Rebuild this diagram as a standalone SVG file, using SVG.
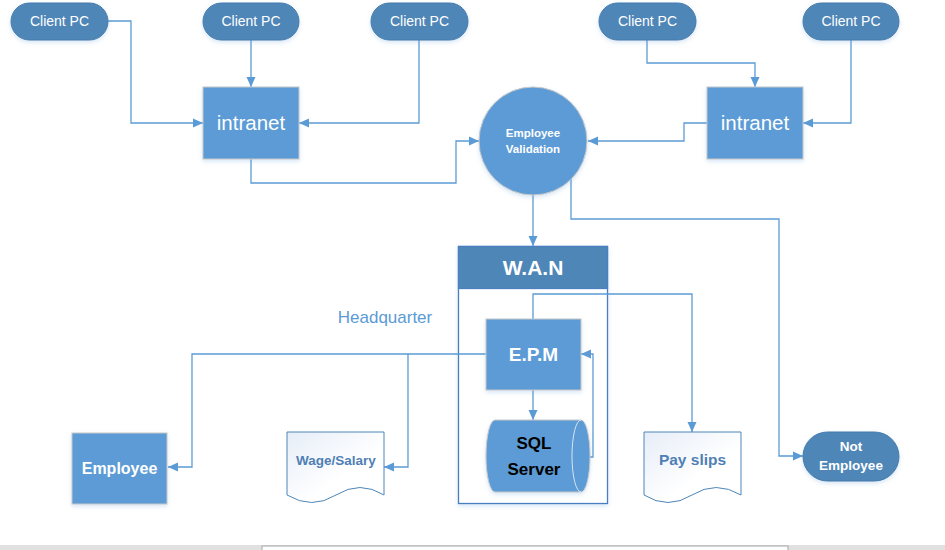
<svg xmlns="http://www.w3.org/2000/svg" width="945" height="550" viewBox="0 0 945 550">
<style>
text{font-family:"Liberation Sans",Arial,sans-serif;text-anchor:middle}
.pill{fill:#4f86b8;stroke:#477bab;stroke-width:1}
.box{fill:#5b9bd5;stroke:#c8c8c8;stroke-width:1}
.w{fill:#ffffff}
.b{font-weight:bold}
.doc{fill:url(#dg);stroke:#4f86b8;stroke-width:1}
.con{fill:none;stroke:#5b9bd5;stroke-width:1.3}
</style>
<defs>
<marker id="ah" markerUnits="userSpaceOnUse" markerWidth="10" markerHeight="10" viewBox="0 0 10 10" refX="10" refY="5" orient="auto">
<path d="M0,0.5 L10,5 L0,9.5 Z" fill="#5b9bd5"/>
</marker>
<linearGradient id="dg" x1="0" y1="0" x2="1" y2="1">
<stop offset="0" stop-color="#e6edf8"/>
<stop offset="0.6" stop-color="#ffffff"/>
</linearGradient>
<filter id="sh" x="-10%" y="-10%" width="130%" height="140%">
<feDropShadow dx="0" dy="2" stdDeviation="2" flood-color="#5b9bd5" flood-opacity="0.25"/>
</filter>
</defs>
<rect width="945" height="550" fill="#ffffff"/>

<g id="wan">
<rect x="458.5" y="246.5" width="149" height="257" fill="#ffffff" stroke="#4a7fc0" stroke-width="1.3" filter="url(#sh)"/>
<rect x="458.5" y="246.5" width="149" height="42" fill="#4f86b8" stroke="#4a7fc0" stroke-width="1.3"/>
<text class="w b" x="533" y="275" font-size="21">W.A.N</text>
</g>

<g id="connectors">
<path class="con" marker-end="url(#ah)" d="M108,21 H131 V123 H203"/>
<path class="con" marker-end="url(#ah)" d="M251,40 V87"/>
<path class="con" marker-end="url(#ah)" d="M419,40 V123 H299"/>
<path class="con" marker-end="url(#ah)" d="M251,159 V183 H456 V141 H479"/>
<path class="con" marker-end="url(#ah)" d="M647,40 V63 H755 V87"/>
<path class="con" marker-end="url(#ah)" d="M851,40 V123 H803"/>
<path class="con" marker-end="url(#ah)" d="M707,123 H684 V141 H588"/>
<path class="con" marker-end="url(#ah)" d="M533,195 V246"/>
<path class="con" marker-end="url(#ah)" d="M571,179 V219 H779 V456 H803"/>
<path class="con" marker-end="url(#ah)" d="M533,390 V420"/>
<path class="con" marker-end="url(#ah)" d="M590,457 H593 V354 H581"/>
<path class="con" marker-end="url(#ah)" d="M533,319 V294 H692 V432"/>
<path class="con" marker-end="url(#ah)" d="M486,354 H192 V467 H168"/>
<path class="con" marker-end="url(#ah)" d="M408,354 V467 H384"/>
</g>

<g id="client1"><rect class="pill" filter="url(#sh)" x="11" y="3" width="97" height="37" rx="18.5"/><text class="w" x="59.5" y="26" font-size="14">Client PC</text></g>
<g id="client2"><rect class="pill" filter="url(#sh)" x="203" y="3" width="96" height="37" rx="18.5"/><text class="w" x="251" y="26" font-size="14">Client PC</text></g>
<g id="client3"><rect class="pill" filter="url(#sh)" x="371" y="3" width="97" height="37" rx="18.5"/><text class="w" x="419.5" y="26" font-size="14">Client PC</text></g>
<g id="client4"><rect class="pill" filter="url(#sh)" x="599" y="3" width="97" height="37" rx="18.5"/><text class="w" x="647.5" y="26" font-size="14">Client PC</text></g>
<g id="client5"><rect class="pill" filter="url(#sh)" x="803" y="3" width="96" height="37" rx="18.5"/><text class="w" x="851" y="26" font-size="14">Client PC</text></g>

<g id="intranet1"><rect class="box" filter="url(#sh)" x="203" y="87" width="96" height="72"/><text class="w" x="251" y="130" font-size="20.5">intranet</text></g>
<g id="intranet2"><rect class="box" filter="url(#sh)" x="707" y="87" width="96" height="72"/><text class="w" x="755" y="130" font-size="20.5">intranet</text></g>

<g id="validation"><circle class="box" filter="url(#sh)" cx="533" cy="141" r="54"/><text class="w b" x="533" y="137" font-size="11.5">Employee</text><text class="w b" x="533" y="153" font-size="11.5">Validation</text></g>

<g id="headquarter"><text x="385" y="323" font-size="17" fill="#5b9bd5">Headquarter</text></g>

<g id="epm"><rect class="box" filter="url(#sh)" x="486" y="319" width="95" height="71"/><text class="w b" x="533.5" y="361" font-size="19">E.P.M</text></g>

<g id="sql">
<path d="M495,420 H581 A9,36 0 0 1 581,492 H495 A9,36 0 0 1 495,420 Z" fill="#5b9bd5" stroke="#c8c8c8" stroke-width="1" filter="url(#sh)"/>
<path d="M581,420 A9,36 0 0 0 581,492" fill="none" stroke="#d8e4f0" stroke-width="1"/>
<text class="b" x="534" y="449" font-size="17" fill="#000000">SQL</text>
<text class="b" x="534" y="475" font-size="17" fill="#000000">Server</text>
</g>

<g id="payslips"><path class="doc" d="M644,432 H741 V495 Q716,480 692,495 Q668,510 644,495 Z"/><text class="b" x="692.5" y="465" font-size="15.5" fill="#4f7fb5">Pay slips</text></g>

<g id="wage"><path class="doc" d="M287,432 H384 V495 Q360,480 336,495 Q312,510 287,495 Z"/><text class="b" x="336" y="465" font-size="13.5" fill="#4f7fb5">Wage/Salary</text></g>

<g id="employee"><rect class="box" filter="url(#sh)" x="72" y="433" width="95" height="71"/><text class="w b" x="119.5" y="474" font-size="16">Employee</text></g>

<g id="notemployee"><rect class="pill" filter="url(#sh)" x="803" y="432" width="96" height="49" rx="24.5"/><text class="w b" x="851" y="451" font-size="13.5">Not</text><text class="w b" x="851" y="470" font-size="13.5">Employee</text></g>

<rect x="0" y="545" width="945" height="5" fill="#e1e1e1"/>
<rect x="262" y="546" width="526" height="6" fill="#ffffff" stroke="#a6a6a6" stroke-width="1"/>
</svg>
